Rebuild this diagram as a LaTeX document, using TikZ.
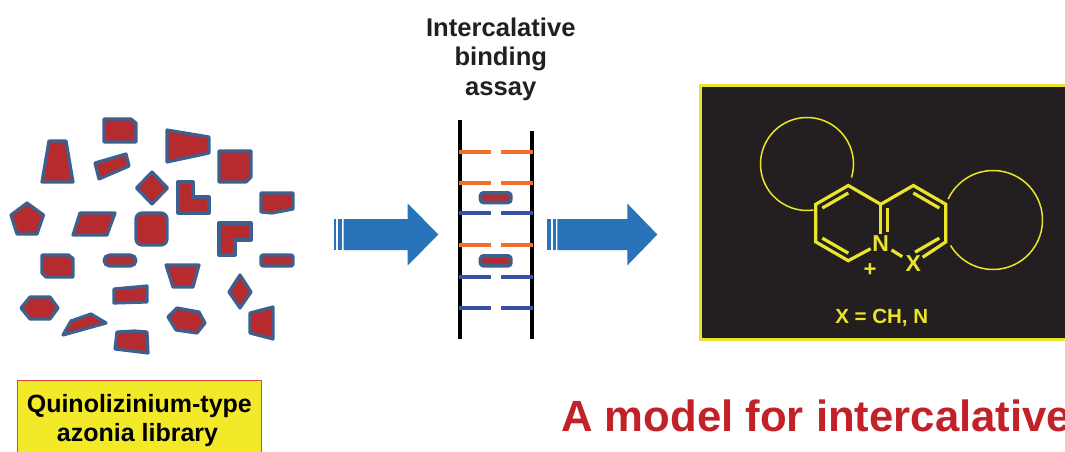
\documentclass[tikz,border=0pt]{standalone}
\usepackage{fontspec}
\setmainfont{Liberation Sans}
\usetikzlibrary{calc}

\definecolor{blobred}{RGB}{181,43,46}
\definecolor{blobedge}{RGB}{62,96,142}
\definecolor{arrowblue}{RGB}{40,115,185}
\definecolor{rungorange}{RGB}{242,108,42}
\definecolor{rungblue}{RGB}{55,80,162}
\definecolor{boardgray}{RGB}{35,31,32}
\definecolor{chemyellow}{RGB}{235,228,45}
\definecolor{inkgray}{RGB}{35,31,32}
\definecolor{tagyellow}{RGB}{242,234,40}
\definecolor{tagedge}{RGB}{220,70,60}
\definecolor{titlered}{RGB}{193,33,39}

\begin{document}
\begin{tikzpicture}[x=1pt,y=-1pt,
  blob/.style={fill=blobred, draw=blobedge, line width=3.2pt, line join=round},
  blockarrow/.style={fill=arrowblue, draw=none},
  rail/.style={draw=black, line width=4.4pt},
  rungo/.style={draw=rungorange, line width=3.8pt},
  rungb/.style={draw=rungblue, line width=3.8pt},
  bond/.style={draw=chemyellow, line width=3.2pt},
  ringarc/.style={draw=chemyellow, line width=1.5pt},
  atom/.style={text=chemyellow, font=\fontsize{23}{23}\selectfont\bfseries, inner sep=1.5pt},
  heading/.style={text=inkgray, font=\fontsize{25.6}{30}\selectfont\bfseries, anchor=base, inner sep=0pt},
  tagtext/.style={text=black, font=\fontsize{25}{29}\selectfont\bfseries, anchor=base, inner sep=0pt}
]
\clip (0,0) rectangle (1065,452);
\fill[white] (0,0) rectangle (1065,452);

% ---- scattered library of molecule shapes ----
\draw[blob] (49,141)--(66,141)--(73,182)--(42,182)--cycle;
\draw[blob] (104,119)--(131,119)--(136,123)--(136,142)--(104,142)--cycle;
\draw[blob] (95,163)--(126,154)--(129,166)--(99,179)--cycle;
\draw[blob] (167,130)--(209,137)--(209,153)--(167,162)--cycle;
\draw[blob] (219,151)--(251,151)--(251,177)--(246,182)--(219,182)--cycle;
\draw[blob] (152,172)--(167.5,188)--(152,204)--(136.5,188)--cycle;
\draw[blob] (178,182)--(193,182)--(193,197)--(209,197)--(209,213)--(178,213)--cycle;
\draw[blob] (261,193)--(293,193)--(293,209)--(272,213)--(261,212)--cycle;
\draw[blob] (27,203)--(43.5,215)--(37,234)--(17,234)--(11,215)--cycle;
\draw[blob] (80,213)--(115,213)--(107,235)--(73,235)--cycle;
\draw[blob, rounded corners=6pt] (136,213) rectangle (167,245);
\draw[blob] (219,223)--(251,223)--(251,240)--(235,240)--(235,255)--(219,255)--cycle;
\draw[blob] (42,255)--(68.5,255)--(73,258.5)--(73,277)--(46,277)--(42,273)--cycle;
\draw[blob, rounded corners=5.5pt] (104,255) rectangle (136,266);
\draw[blob] (166,265)--(199,265)--(193,287)--(173,287)--cycle;
\draw[blob, rounded corners=2pt] (261,255) rectangle (293,266);
\draw[blob] (21,308)--(30,297)--(50,297)--(58,308)--(50,319)--(30,319)--cycle;
\draw[blob] (114,289)--(147,286)--(147,302)--(114,303)--cycle;
\draw[blob] (240,275)--(251,292)--(240,308)--(229,292)--cycle;
\draw[blob] (63,335)--(71,321)--(91,314)--(106,323)--cycle;
\draw[blob] (168,317)--(177,308)--(199,312)--(205,323)--(197,333)--(176,330)--cycle;
\draw[blob] (250,313)--(273,307)--(273,339)--(250,333)--cycle;
\draw[blob] (117,332)--(135,331)--(147,332)--(148,353)--(115,349)--cycle;

% ---- library label ----
\draw[fill=tagyellow, draw=tagedge, line width=1pt] (17.5,380.7) rectangle (261.7,470);
\node[tagtext] (tag1) at (139.3,412.3) {Quinolizinium-type};
\node[tagtext] (tag2) at (137.5,441.7) {azonia library};

% ---- block arrows ----
\fill[arrowblue] (334.3,219) rectangle (336,250);
\fill[arrowblue] (337.7,219) rectangle (341.7,250);
\fill[blockarrow] (343.7,219)--(407.7,219)--(407.7,203.5)--(438.3,234.5)--(407.7,265.5)--(407.7,250)--(343.7,250)--cycle;

\fill[arrowblue] (547.3,219) rectangle (551,250);
\fill[arrowblue] (552.7,219) rectangle (556,250);
\fill[blockarrow] (557.3,219)--(627.3,219)--(627.3,203.5)--(657.3,234.5)--(627.3,265.5)--(627.3,250)--(557.3,250)--cycle;

% ---- assay heading ----
\node[heading] (h1) at (500.8,36.5) {Intercalative};
\node[heading] (h2) at (500.8,66) {binding};
\node[heading] (h3) at (500.8,95.5) {assay};

% ---- DNA ladder with intercalated guests ----
\coordinate (lt) at (460,120);
\coordinate (lb) at (460,339);
\coordinate (rt) at (532,131);
\coordinate (rb) at (532,339);
\draw[rail] (lt) -- (lb);
\draw[rail] (rt) -- (rb);
\foreach \yy/\st in {151.7/rungo, 182.7/rungo, 213.3/rungb, 245/rungo, 276.7/rungb, 307.7/rungb}{
  \draw[\st] (458.7,\yy) -- (490.7,\yy);
  \draw[\st] (501,\yy) -- (533.3,\yy);
}
\draw[blob, line width=3.6pt, rounded corners=3pt] (480.5,192.8) rectangle (510.9,202.5);
\draw[blob, line width=3.6pt, rounded corners=3pt] (480.5,255.8) rectangle (510.9,265.9);

% ---- azonia core on the dark panel ----
\draw[fill=boardgray, draw=chemyellow, line width=2.9pt] (700.7,85.3) rectangle (1080,339.7);

\coordinate (A) at (848.3,185.5);
\coordinate (B) at (880.7,204.3);
\coordinate (C) at (848.3,260.7);
\coordinate (D) at (815.8,241.9);
\coordinate (E) at (815.8,204.3);
\coordinate (F) at (913.3,185.5);
\coordinate (G) at (945.8,204.3);
\coordinate (H) at (945.8,241.9);
\coordinate (Nv) at (880.7,241.9);
\coordinate (Xv) at (913.3,260.7);
\coordinate (Lc) at (848.3,223.1);
\coordinate (Rc) at (913.3,223.1);
\coordinate (lcirc) at (807,164);
\coordinate (rcirc) at (993,220);

\node[atom] (N) at (880.7,243.3) {N};
\node[atom] (X) at (913.3,263.5) {X};
\node[atom, font=\fontsize{22}{22}\selectfont\bfseries] (plus) at (870,270) {+};

\draw[bond] (N) -- (C) -- (D) -- (E) -- (A) -- (B) -- (F) -- (G) -- (H) -- (X);
\draw[bond] (B) -- (N);
\draw[bond, shorten <=1pt, shorten >=2pt] (N) -- (X);
% inner lines of the double bonds
\draw[bond] ($(Lc)!0.8!(E)$) -- ($(Lc)!0.8!(A)$);
\draw[bond] ($(Lc)!0.8!(D)$) -- ($(Lc)!0.8!(C)$);
\draw[bond] ($(Rc)!0.8!(F)$) -- ($(Rc)!0.8!(G)$);
\draw[bond, shorten >=2pt] ($(Rc)!0.8!(H)$) -- ($(Rc)!0.8!(Xv)$);
\draw[bond, shorten >=6pt] ($(Rc)!0.8!(B)$) -- ($(Rc)!0.8!(Nv)$);

% fused rings sketched as arcs
\draw[ringarc] ($(lcirc)+(-17:46.5pt)$) arc[start angle=-17, end angle=278, radius=46.5pt];
\draw[ringarc] ($(rcirc)+(155:49.5pt)$) arc[start angle=155, end angle=-149, radius=49.5pt];

\node[atom, font=\fontsize{20.5}{20.5}\selectfont\bfseries, anchor=base, inner sep=0pt] (xdef) at (881.7,323.3) {X = CH, N};

% ---- title ----
\node[text=titlered, font=\fontsize{43.7}{44}\selectfont\bfseries, anchor=base west, inner sep=0pt] (title) at (561,431) {A model for intercalative};
\end{tikzpicture}
\end{document}
